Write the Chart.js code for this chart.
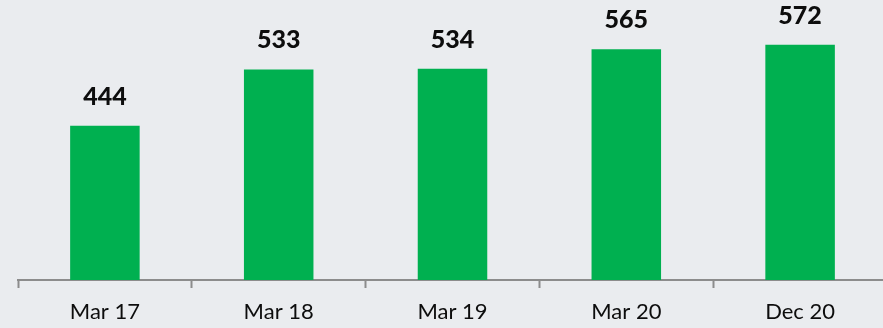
<!DOCTYPE html>
<html>
<head>
<meta charset="utf-8">
<script src="https://cdn.jsdelivr.net/npm/chart.js@4.4.1/dist/chart.umd.min.js"></script>
<style>
  html, body { margin: 0; padding: 0; overflow: hidden; background: #eaecef; }
  #wrap { width: 888px; height: 328px; }
</style>
</head>
<body>
<div id="wrap"><canvas id="myChart"></canvas></div>
<script>
const periods = ["Mar 17", "Mar 18", "Mar 19", "Mar 20", "Dec 20"];
const totals = [444, 533, 534, 565, 572];

// value written above every bar
const barLabels = {
  id: "barLabels",
  afterDatasetsDraw(chart) {
    const { ctx } = chart;
    ctx.save();
    ctx.font = "900 25px Lato";
    ctx.fillStyle = "#0d0d0d";
    ctx.textAlign = "center";
    ctx.textBaseline = "middle";
    chart.getDatasetMeta(0).data.forEach((bar, i) => {
      ctx.fillText(chart.data.datasets[0].data[i], bar.x, bar.y - 29);
    });
    ctx.restore();
  },
};

const ctx = document.getElementById("myChart").getContext("2d");

new Chart(ctx, {
  type: "bar",
  data: {
    labels: periods,
    datasets: [
      {
        data: totals,
        backgroundColor: "#00b050",
        barPercentage: 0.4,
        categoryPercentage: 1,
      },
    ],
  },
  options: {
    responsive: true,
    maintainAspectRatio: false,
    animation: false,
    layout: { padding: { left: 18, right: 1, top: 27, bottom: 0 } },
    plugins: {
      legend: { display: false },
      tooltip: { enabled: false },
    },
    scales: {
      x: {
        afterFit: (scale) => { scale.height = 48; },
        border: { display: true, color: "#8c8c8c", width: 2 },
        grid: {
          display: true,
          drawOnChartArea: false,
          tickLength: 8,
          tickWidth: 2,
          tickColor: "#8c8c8c",
        },
        ticks: {
          color: "#0d0d0d",
          padding: 11,
          font: { family: "Lato", size: 22 },
        },
      },
      y: {
        display: false,
        min: 200,
        max: 600,
      },
    },
  },
  plugins: [barLabels],
});
</script>
</body>
</html>
